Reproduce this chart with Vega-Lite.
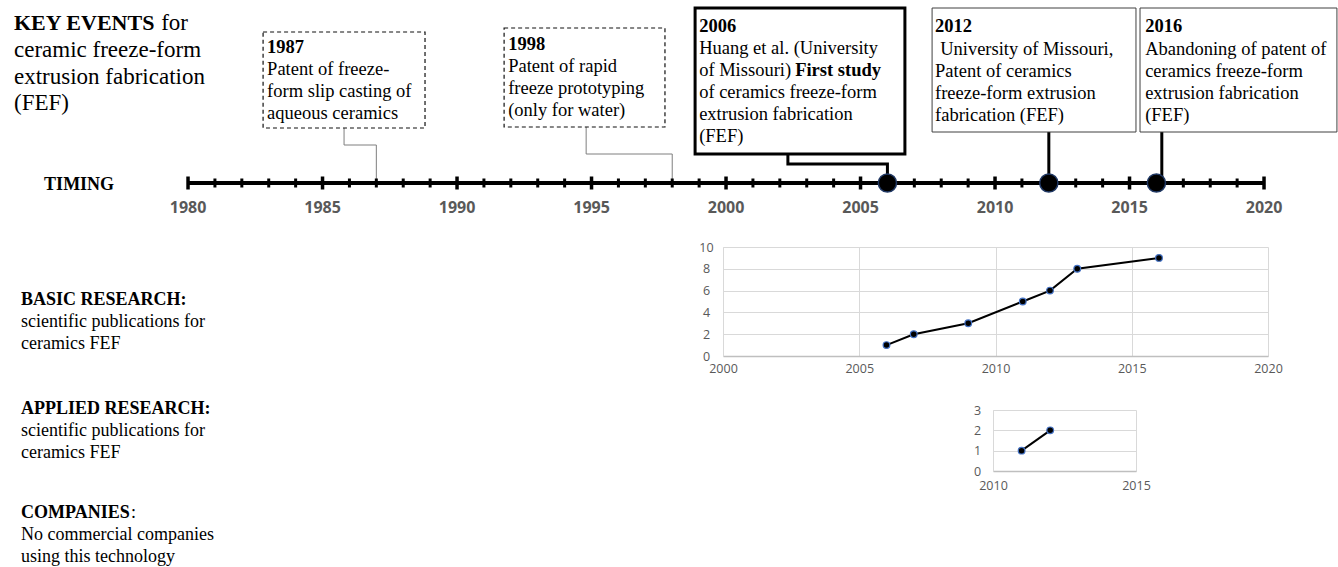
{
  "$schema": "https://vega.github.io/schema/vega-lite/v6.json",
  "padding": 0,
  "background": "white",
  "spacing": 0,
  "config": {
    "view": {"stroke": null},
    "axis": {"labelFont": "Open Sans", "labelColor": "#595959", "labelFontSize": 12.5, "title": null}
  },
  "datasets": {
    "years": [
      {"x": 1980, "h": 0}, {"x": 1981, "h": 0}, {"x": 1982, "h": 0}, {"x": 1983, "h": 0}, {"x": 1984, "h": 0},
      {"x": 1985, "h": 0}, {"x": 1986, "h": 0}, {"x": 1987, "h": 0}, {"x": 1988, "h": 0}, {"x": 1989, "h": 0},
      {"x": 1990, "h": 0}, {"x": 1991, "h": 0}, {"x": 1992, "h": 0}, {"x": 1993, "h": 0}, {"x": 1994, "h": 0},
      {"x": 1995, "h": 0}, {"x": 1996, "h": 0}, {"x": 1997, "h": 0}, {"x": 1998, "h": 0}, {"x": 1999, "h": 0},
      {"x": 2000, "h": 0}, {"x": 2001, "h": 0}, {"x": 2002, "h": 0}, {"x": 2003, "h": 0}, {"x": 2004, "h": 0},
      {"x": 2005, "h": 0}, {"x": 2006, "h": 0}, {"x": 2007, "h": 0}, {"x": 2008, "h": 0}, {"x": 2009, "h": 0},
      {"x": 2010, "h": 0}, {"x": 2011, "h": 0}, {"x": 2012, "h": 0}, {"x": 2013, "h": 0}, {"x": 2014, "h": 0},
      {"x": 2015, "h": 0}, {"x": 2016, "h": 0}, {"x": 2017, "h": 0}, {"x": 2018, "h": 0}, {"x": 2019, "h": 0},
      {"x": 2020, "h": 0}
    ]
  },
  "vconcat": [
    {
      "width": 1338,
      "height": 241,
      "encoding": {
        "x": {"field": "x", "type": "quantitative", "scale": {"domain": [1973.01, 2022.75], "nice": false, "zero": false}, "axis": null},
        "y": {"field": "h", "type": "quantitative", "scale": {"domain": [-58, 183], "nice": false, "zero": false}, "axis": null}
      },
      "layer": [
        {
          "data": {"values": [
            {"id": "a", "s": 1, "x": 1985.80, "h": 55}, {"id": "a", "s": 2, "x": 1985.80, "h": 38},
            {"id": "a", "s": 3, "x": 1987, "h": 38}, {"id": "a", "s": 4, "x": 1987, "h": 0},
            {"id": "b", "s": 1, "x": 1994.80, "h": 56}, {"id": "b", "s": 2, "x": 1994.80, "h": 29},
            {"id": "b", "s": 3, "x": 1998, "h": 29}, {"id": "b", "s": 4, "x": 1998, "h": 0}
          ]},
          "mark": {"type": "line", "color": "#7f7f7f", "strokeWidth": 1},
          "encoding": {"detail": {"field": "id"}, "order": {"field": "s"}}
        },
        {
          "data": {"values": [
            {"id": "c", "s": 1, "x": 2002.30, "h": 29}, {"id": "c", "s": 2, "x": 2002.30, "h": 19},
            {"id": "c", "s": 3, "x": 2006, "h": 19}, {"id": "c", "s": 4, "x": 2006, "h": 0},
            {"id": "d", "s": 1, "x": 2012, "h": 51}, {"id": "d", "s": 2, "x": 2012, "h": 0},
            {"id": "e", "s": 1, "x": 2016.2, "h": 51}, {"id": "e", "s": 2, "x": 2016.2, "h": 0}
          ]},
          "mark": {"type": "line", "color": "black", "strokeWidth": 3, "strokeJoin": "miter"},
          "encoding": {"detail": {"field": "id"}, "order": {"field": "s"}}
        },
        {
          "data": {"values": [
            {"x": 1982.79, "x2": 1988.81, "h": 151, "h2": 55},
            {"x": 1991.75, "x2": 1997.73, "h": 155, "h2": 56}
          ]},
          "mark": {"type": "rect", "fill": "white", "stroke": "#111111", "strokeWidth": 1.2, "strokeDash": [4, 3]},
          "encoding": {"x2": {"field": "x2"}, "y2": {"field": "h2"}}
        },
        {
          "data": {"values": [{"x": 1998.85, "x2": 2006.65, "h": 175, "h2": 29}]},
          "mark": {"type": "rect", "fill": "white", "stroke": "black", "strokeWidth": 3},
          "encoding": {"x2": {"field": "x2"}, "y2": {"field": "h2"}}
        },
        {
          "data": {"values": [
            {"x": 2007.66, "x2": 2015.24, "h": 175, "h2": 51},
            {"x": 2015.39, "x2": 2022.71, "h": 175, "h2": 51}
          ]},
          "mark": {"type": "rect", "fill": "white", "stroke": "#404040", "strokeWidth": 1},
          "encoding": {"x2": {"field": "x2"}, "y2": {"field": "h2"}}
        },
        {
          "data": {"values": [{"x": 1980, "x2": 2020, "h": 0}]},
          "mark": {"type": "rule", "color": "black", "strokeWidth": 4},
          "encoding": {"x2": {"field": "x2"}}
        },
        {
          "data": {"name": "years"},
          "transform": [{"filter": "datum.x % 5 != 0"}],
          "mark": {"type": "tick", "orient": "vertical", "color": "black", "size": 9, "thickness": 3, "opacity": 1}
        },
        {
          "data": {"name": "years"},
          "transform": [{"filter": "datum.x % 5 == 0"}],
          "mark": {"type": "tick", "orient": "vertical", "color": "black", "size": 13, "thickness": 3.5, "opacity": 1}
        },
        {
          "data": {"name": "years"},
          "transform": [{"filter": "datum.x % 5 == 0"}],
          "mark": {"type": "text", "font": "Open Sans", "fontWeight": "bold", "fontSize": 16, "color": "#595959", "align": "center", "baseline": "middle", "dy": 25},
          "encoding": {"text": {"field": "x", "type": "quantitative", "format": "d"}}
        },
        {
          "data": {"values": [{"x": 2006, "h": 0}, {"x": 2012, "h": 0}, {"x": 2016, "h": 0}]},
          "mark": {"type": "circle", "size": 330, "fill": "black", "stroke": "#203864", "strokeWidth": 1.5, "opacity": 1}
        },
        {
          "data": {"values": [{"x": 1973.53, "h": 153, "t": "KEY EVENTS"}]},
          "mark": {"type": "text", "font": "Liberation Serif", "fontSize": 22, "fontWeight": "bold", "align": "left", "baseline": "alphabetic", "color": "black"},
          "encoding": {"text": {"field": "t"}}
        },
        {
          "data": {"values": [
            {"x": 1979.0, "h": 153, "t": "for"},
            {"x": 1973.53, "h": 126, "t": "ceramic freeze-form"},
            {"x": 1973.53, "h": 99, "t": "extrusion fabrication"},
            {"x": 1973.53, "h": 73, "t": "(FEF)"}
          ]},
          "mark": {"type": "text", "font": "Liberation Serif", "fontSize": 23, "align": "left", "baseline": "alphabetic", "color": "black"},
          "encoding": {"text": {"field": "t"}}
        },
        {
          "data": {"values": [
            {"x": 1982.94, "h": 130, "t": "1987"},
            {"x": 1991.90, "h": 133, "t": "1998"},
            {"x": 1999.0, "h": 151, "t": "2006"},
            {"x": 2002.57, "h": 107, "t": "First study"},
            {"x": 2007.77, "h": 151, "t": "2012"},
            {"x": 2015.58, "h": 151, "t": "2016"}
          ]},
          "mark": {"type": "text", "font": "Liberation Serif", "fontSize": 18.5, "fontWeight": "bold", "align": "left", "baseline": "alphabetic", "color": "black"},
          "encoding": {"text": {"field": "t"}}
        },
        {
          "data": {"values": [
            {"x": 1982.94, "h": 108, "t": "Patent of freeze-\nform slip casting of\naqueous ceramics"},
            {"x": 1991.90, "h": 111, "t": "Patent of rapid\nfreeze prototyping\n(only for water)"},
            {"x": 1999.0, "h": 129, "t": "Huang et al. (University\nof Missouri)\nof ceramics freeze-form\nextrusion fabrication\n(FEF)"},
            {"x": 2007.96, "h": 128, "t": "University of Missouri,"},
            {"x": 2007.77, "h": 106, "t": "Patent of ceramics\nfreeze-form extrusion\nfabrication (FEF)"},
            {"x": 2015.58, "h": 128, "t": "Abandoning of patent of\nceramics freeze-form\nextrusion fabrication\n(FEF)"}
          ]},
          "mark": {"type": "text", "font": "Liberation Serif", "fontSize": 18.5, "align": "left", "baseline": "alphabetic", "color": "black", "lineBreak": "\n", "lineHeight": 22},
          "encoding": {"text": {"field": "t"}}
        },
        {
          "data": {"values": [{"x": 1974.65, "h": -2, "t": "TIMING"}]},
          "mark": {"type": "text", "font": "Liberation Serif", "fontSize": 18, "fontWeight": "bold", "align": "left", "baseline": "middle", "color": "black"},
          "encoding": {"text": {"field": "t"}}
        }
      ]
    },
    {
      "hconcat": [
        {
          "width": 723,
          "height": 153,
          "encoding": {
            "x": {"field": "x", "type": "quantitative", "scale": {"domain": [1973.01, 1999.89], "nice": false, "zero": false}, "axis": null},
            "y": {"field": "v", "type": "quantitative", "scale": {"domain": [0, 153], "reverse": true, "nice": false, "zero": false}, "axis": null},
            "text": {"field": "t"}
          },
          "layer": [
            {
              "data": {"values": [{"x": 1973.79, "v": 58, "t": "BASIC RESEARCH:"}]},
              "mark": {"type": "text", "font": "Liberation Serif", "fontSize": 18, "fontWeight": "bold", "align": "left", "baseline": "alphabetic", "color": "black"}
            },
            {
              "data": {"values": [{"x": 1973.79, "v": 80, "t": "scientific publications for\nceramics FEF"}]},
              "mark": {"type": "text", "font": "Liberation Serif", "fontSize": 18, "align": "left", "baseline": "alphabetic", "color": "black", "lineBreak": "\n", "lineHeight": 22}
            }
          ]
        },
        {
          "width": 545,
          "height": 109,
          "data": {"values": [
            {"year": 2006, "n": 1}, {"year": 2007, "n": 2}, {"year": 2009, "n": 3},
            {"year": 2011, "n": 5}, {"year": 2012, "n": 6}, {"year": 2013, "n": 8}, {"year": 2016, "n": 9}
          ]},
          "encoding": {
            "x": {"field": "year", "type": "quantitative", "scale": {"domain": [2000, 2020], "nice": false, "zero": false},
                  "axis": {"values": [2000, 2005, 2010, 2015, 2020], "format": "d", "grid": true, "gridColor": "#d9d9d9", "domainColor": "#bfbfbf", "domainWidth": 1.5, "ticks": false, "labelPadding": 6, "labelFlush": false}},
            "y": {"field": "n", "type": "quantitative", "scale": {"domain": [0, 10], "nice": false},
                  "axis": {"values": [0, 2, 4, 6, 8, 10], "grid": true, "gridColor": "#d9d9d9", "domainColor": "#d9d9d9", "ticks": false, "labelAlign": "center", "labelPadding": 17, "labelFlush": false}}
          },
          "layer": [
            {"mark": {"type": "line", "color": "black", "strokeWidth": 2}},
            {"mark": {"type": "circle", "size": 45, "fill": "black", "stroke": "#4472c4", "strokeWidth": 1.2, "opacity": 1}}
          ]
        }
      ],
      "spacing": 0,
      "bounds": "flush"
    },
    {
      "hconcat": [
        {
          "width": 993,
          "height": 157,
          "encoding": {
            "x": {"field": "x", "type": "quantitative", "scale": {"domain": [1973.01, 2009.93], "nice": false, "zero": false}, "axis": null},
            "y": {"field": "v", "type": "quantitative", "scale": {"domain": [0, 157], "reverse": true, "nice": false, "zero": false}, "axis": null},
            "text": {"field": "t"}
          },
          "layer": [
            {
              "data": {"values": [
                {"x": 1973.79, "v": 4, "t": "APPLIED RESEARCH:"},
                {"x": 1973.79, "v": 108, "t": "COMPANIES"}
              ]},
              "mark": {"type": "text", "font": "Liberation Serif", "fontSize": 18, "fontWeight": "bold", "align": "left", "baseline": "alphabetic", "color": "black"}
            },
            {
              "data": {"values": [
                {"x": 1973.79, "v": 26, "t": "scientific publications for\nceramics FEF"},
                {"x": 1977.88, "v": 108, "t": ":"},
                {"x": 1973.79, "v": 130, "t": "No commercial companies\nusing this technology"}
              ]},
              "mark": {"type": "text", "font": "Liberation Serif", "fontSize": 18, "align": "left", "baseline": "alphabetic", "color": "black", "lineBreak": "\n", "lineHeight": 22}
            }
          ]
        },
        {
          "width": 143,
          "height": 61,
          "data": {"values": [{"year": 2011, "n": 1}, {"year": 2012, "n": 2}]},
          "encoding": {
            "x": {"field": "year", "type": "quantitative", "scale": {"domain": [2010, 2015], "nice": false, "zero": false},
                  "axis": {"values": [2010, 2015], "format": "d", "grid": true, "gridColor": "#d9d9d9", "domainColor": "#bfbfbf", "domainWidth": 1.5, "ticks": false, "labelPadding": 8, "labelFlush": false}},
            "y": {"field": "n", "type": "quantitative", "scale": {"domain": [0, 3], "nice": false},
                  "axis": {"values": [0, 1, 2, 3], "grid": true, "gridColor": "#d9d9d9", "domainColor": "#d9d9d9", "ticks": false, "labelAlign": "center", "labelPadding": 16, "labelFlush": false}}
          },
          "layer": [
            {"mark": {"type": "line", "color": "black", "strokeWidth": 2}},
            {"mark": {"type": "circle", "size": 45, "fill": "black", "stroke": "#4472c4", "strokeWidth": 1.2, "opacity": 1}}
          ]
        }
      ],
      "spacing": 0,
      "bounds": "flush"
    }
  ]
}
